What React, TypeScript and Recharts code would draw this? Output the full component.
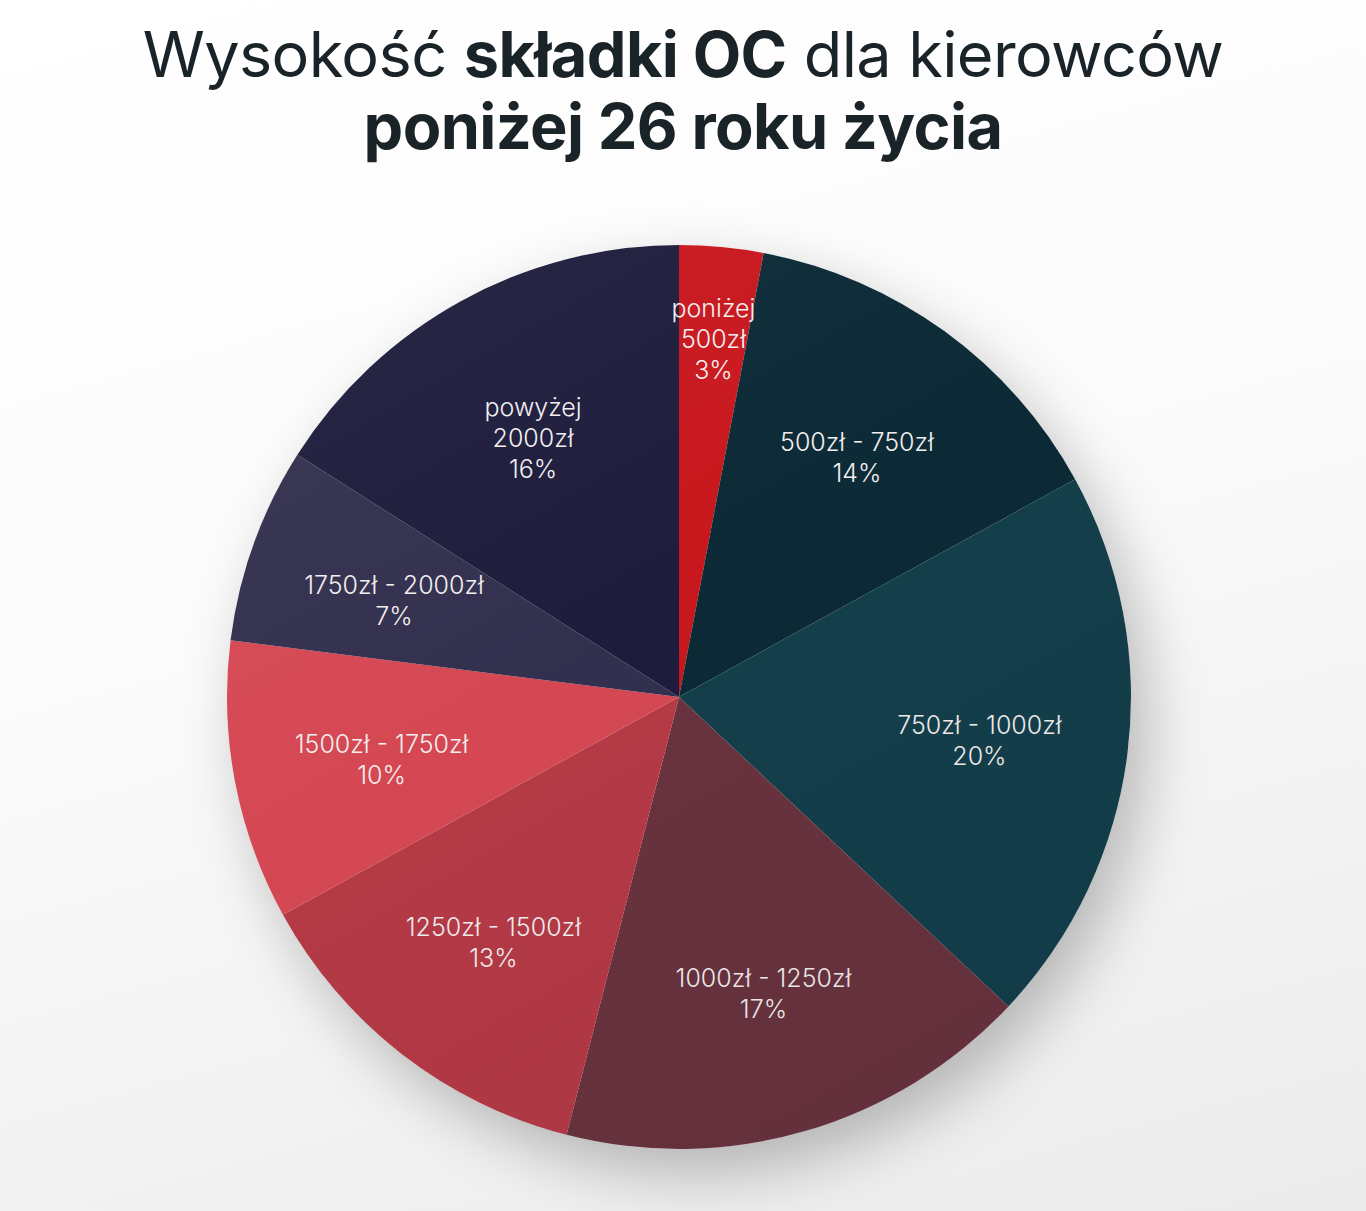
import { PieChart, Pie, Cell } from 'recharts';

const CATEGORIES = [
  'poniżej 500zł',
  '500zł - 750zł',
  '750zł - 1000zł',
  '1000zł - 1250zł',
  '1250zł - 1500zł',
  '1500zł - 1750zł',
  '1750zł - 2000zł',
  'powyżej 2000zł',
];
const SHARES = [3, 14, 20, 17, 13, 10, 7, 16];
const LABEL_LINES = [
  ['poniżej', '500zł'],
  ['500zł - 750zł'],
  ['750zł - 1000zł'],
  ['1000zł - 1250zł'],
  ['1250zł - 1500zł'],
  ['1500zł - 1750zł'],
  ['1750zł - 2000zł'],
  ['powyżej', '2000zł'],
];
const SLICE_COLORS = ['#c8171d', '#0b2a36', '#133f4b', '#69333f', '#b53a46', '#d54853', '#33304f', '#1d1c3c'];

const data = CATEGORIES.map((name, i) => ({ name, value: SHARES[i], lines: LABEL_LINES[i] }));

const W = 1366;
const H = 1211;
const CX = 679;
const CY = 697;
const R = 452;
const FONT = "Inter, 'Noto Sans', sans-serif";

const RADIAN = Math.PI / 180;

function renderLabel(props: any) {
  const { cx, cy, midAngle, outerRadius, payload, value } = props;
  const k = value < 5 ? 0.81 : 0.67;
  const r = outerRadius * k;
  const x = cx + r * Math.cos(-midAngle * RADIAN);
  const y = cy + r * Math.sin(-midAngle * RADIAN) + 6;
  const lines: string[] = [...payload.lines, `${value}%`];
  const lh = 31;
  const y0 = y - ((lines.length - 1) * lh) / 2;
  return (
    <text x={x} y={y0} fill="#f3eef0" textAnchor="middle" dominantBaseline="central" fontSize={25} fontFamily={FONT} fontWeight={300}>
      {lines.map((l, i) => (
        <tspan key={i} x={x} y={y0 + i * lh}>{l}</tspan>
      ))}
    </text>
  );
}

export default function App() {
  return (
    <div style={{ position: 'absolute', left: 0, top: 0, width: W, height: H, overflow: 'hidden', background: 'linear-gradient(165deg, #ffffff 0%, #fbfbfb 45%, #ebebeb 100%)' }}>
      <div style={{ position: 'absolute', left: 0, top: 18, width: W, textAlign: 'center', fontFamily: FONT, color: '#1a2327', fontSize: 63, lineHeight: '72px', letterSpacing: -0.6 }}>
        <div>
          <span style={{ fontWeight: 400 }}>Wysokość </span>
          <span style={{ fontWeight: 700 }}>składki OC</span>
          <span style={{ fontWeight: 400 }}> dla kierowców</span>
        </div>
        <div style={{ fontWeight: 700 }}>poniżej 26 roku życia</div>
      </div>
      <div style={{ position: 'absolute', left: CX - R, top: CY - R, width: 2 * R, height: 2 * R, borderRadius: '50%', boxShadow: '16px 24px 60px rgba(0,0,0,0.25)' }} />
      <div style={{ position: 'absolute', left: 0, top: 0 }}>
        <PieChart width={W} height={H} margin={{ top: 0, right: 0, bottom: 0, left: 0 }}>
          <Pie
            data={data}
            dataKey="value"
            nameKey="name"
            cx={CX}
            cy={CY}
            outerRadius={R}
            startAngle={90}
            endAngle={-270}
            stroke="none"
            label={renderLabel}
            labelLine={false}
            isAnimationActive={false}
          >
            {data.map((d, i) => (
              <Cell key={d.name} fill={SLICE_COLORS[i]} />
            ))}
          </Pie>
        </PieChart>
      </div>
      {/* subtle light-to-shade sheen over the disc */}
      <div style={{ position: 'absolute', left: CX - R, top: CY - R, width: 2 * R, height: 2 * R, borderRadius: '50%', pointerEvents: 'none', background: 'linear-gradient(150deg, rgba(255,255,255,0.05) 0%, rgba(255,255,255,0) 45%, rgba(0,0,0,0.08) 100%)' }} />
    </div>
  );
}
